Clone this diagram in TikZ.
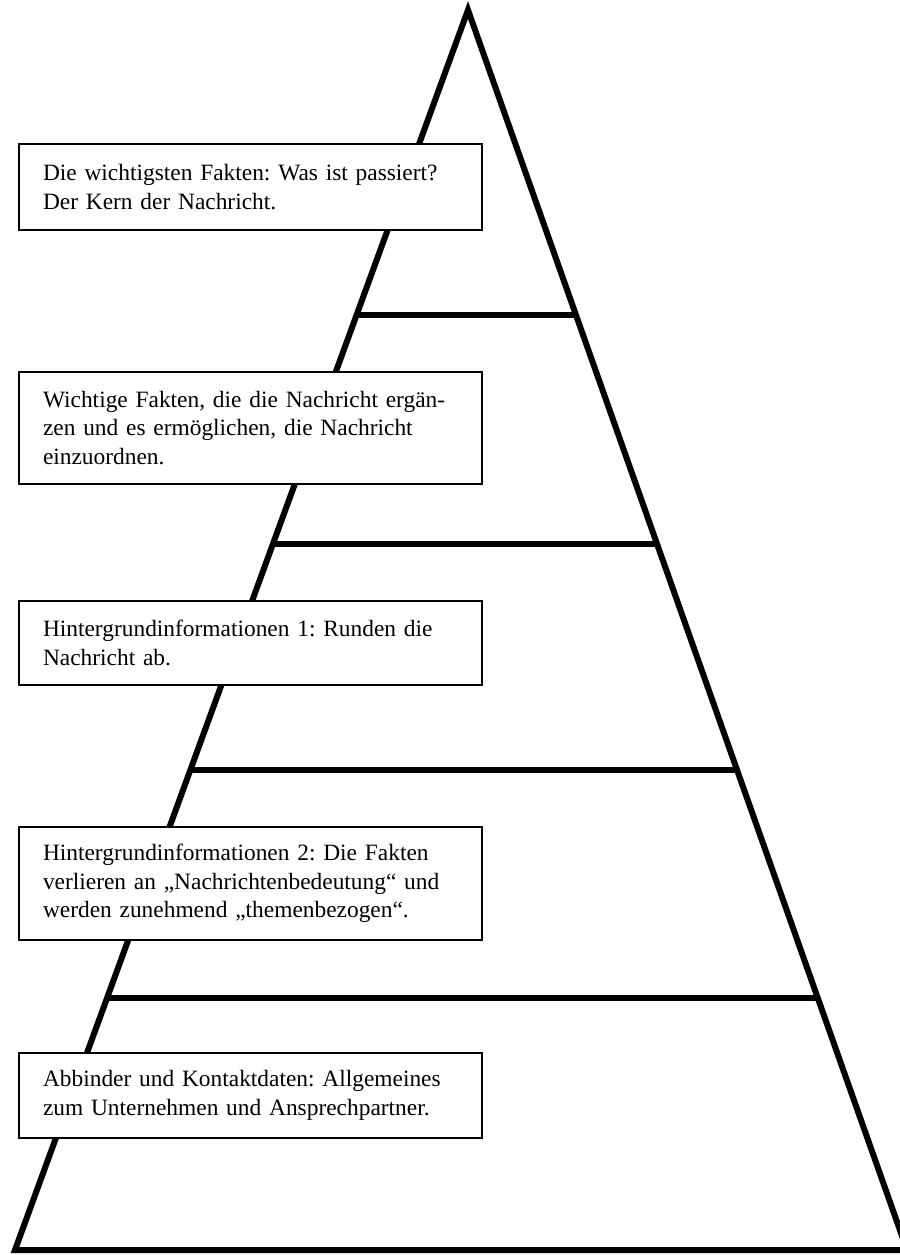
\documentclass[tikz,border=0pt]{standalone}
\usepackage{fontspec}
\setmainfont{Liberation Serif}
\usetikzlibrary{calc}
\frenchspacing
\tikzset{
  infobox/.style={draw, line width=1pt, fill=white, rectangle, text width=207.5pt,
    inner xsep=12pt, inner ysep=0pt, align=left,
    font=\fontsize{11.7}{14.25}\selectfont},
  layer/.style={line width=3pt},
}
\begin{document}
\begin{tikzpicture}[x=0.5pt,y=-0.5pt]
  \useasboundingbox (0,0) rectangle (900,1255);
  \coordinate (top) at (468,10);
  \coordinate (bl) at (15,1250);
  \coordinate (br) at (907,1250);
  \draw[layer, line join=miter] (bl) -- (top) -- (br) -- cycle;
  \foreach \t in {0.246,0.4306,0.6129,0.7968}
    \draw[layer] ($(top)!\t!(bl)$) -- ($(top)!\t!(br)$);
  \node[infobox, minimum height=43pt] (kern) at (250.5,187)
    {Die wichtigsten Fakten: Was ist passiert?\\Der Kern der Nachricht.};
  \node[infobox, minimum height=56pt] (fakten) at (250.5,428)
    {Wichtige Fakten, die die Nachricht ergän-\\zen und es ermöglichen, die Nachricht\\einzuordnen.};
  \node[infobox, minimum height=42pt] (hinter1) at (250.5,643)
    {Hintergrundinformationen 1: Runden die\\Nachricht ab.};
  \node[infobox, minimum height=56.5pt] (hinter2) at (250.5,883.5)
    {Hintergrundinformationen 2: Die Fakten\\verlieren an „Nachrichtenbedeutung“ und\\werden zunehmend „themenbezogen“.};
  \node[infobox, minimum height=42.5pt] (abbinder) at (250.5,1095.5)
    {Abbinder und Kontaktdaten: Allgemeines\\zum Unternehmen und Ansprechpartner.};
\end{tikzpicture}
\end{document}
